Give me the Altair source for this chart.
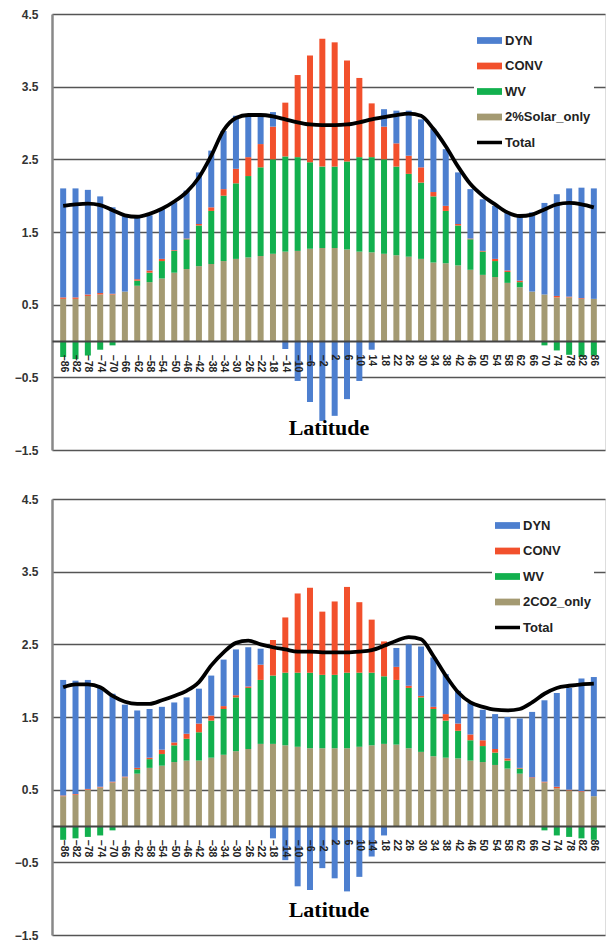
import altair as alt
import pandas as pd

lats = list(range(-86, 87, 4))

# ---- top panel: 2% solar ----
solar_names = ["DYN", "CONV", "WV", "2%Solar_only", "Total"]
solar_base = [0.58, 0.58, 0.62, 0.64, 0.64, 0.68, 0.76, 0.81, 0.86, 0.94, 0.99, 1.03, 1.06, 1.10, 1.13, 1.15, 1.17, 1.20,
              1.23, 1.24, 1.27, 1.28, 1.28, 1.26, 1.23, 1.22,
              1.20, 1.18, 1.16, 1.13, 1.08, 1.07, 1.04, 0.98, 0.91, 0.88, 0.80, 0.74, 0.68, 0.64, 0.60, 0.60, 0.58, 0.58]
solar_wv = [-0.22, -0.25, -0.20, -0.12, -0.06, 0.00, 0.07, 0.13, 0.24, 0.30, 0.41, 0.56, 0.73, 0.90, 1.04, 1.12, 1.22, 1.30,
            1.31, 1.29, 1.19, 1.12, 1.12, 1.21, 1.30, 1.31,
            1.30, 1.22, 1.14, 1.05, 0.91, 0.72, 0.55, 0.42, 0.32, 0.22, 0.15, 0.07, 0.00, -0.06, -0.13, -0.19, -0.22, -0.20]
solar_conv = [0.02, 0.02, 0.02, 0.02, 0.01, 0.00, 0.02, 0.03, 0.03, 0.01, 0.01, 0.02, 0.05, 0.09, 0.20, 0.26, 0.32, 0.45,
              0.74, 1.13, 1.47, 1.76, 1.71, 1.39, 1.09, 0.74,
              0.45, 0.32, 0.25, 0.21, 0.06, 0.07, 0.02, 0.01, 0.01, 0.03, 0.02, 0.02, 0.00, 0.00, 0.02, 0.01, 0.01, 0.00]
solar_dyn = [1.50, 1.50, 1.44, 1.33, 1.19, 1.04, 0.85, 0.76, 0.69, 0.66, 0.66, 0.71, 0.78, 0.80, 0.73, 0.59, 0.41, 0.20,
             -0.11, -0.55, -0.84, -1.10, -1.03, -0.80, -0.55, -0.12,
             0.24, 0.45, 0.62, 0.66, 0.87, 0.78, 0.71, 0.68, 0.71, 0.73, 0.80, 0.89, 1.09, 1.26, 1.40, 1.49, 1.52, 1.52]
solar_total = [1.86, 1.88, 1.89, 1.87, 1.80, 1.73, 1.71, 1.75, 1.82, 1.92, 2.05, 2.25, 2.55, 2.90, 3.07, 3.11, 3.11, 3.09,
               3.05, 3.01, 2.98, 2.97, 2.97, 2.98, 3.01, 3.05,
               3.08, 3.11, 3.13, 3.10, 2.92, 2.68, 2.40, 2.16, 2.00, 1.88, 1.77, 1.72, 1.74, 1.81, 1.88, 1.90, 1.88, 1.84]

# ---- bottom panel: 2xCO2 ----
co2_names = ["DYN", "CONV", "WV", "2CO2_only", "Total"]
co2_base = [0.41, 0.43, 0.50, 0.53, 0.60, 0.67, 0.72, 0.80, 0.83, 0.88, 0.90, 0.90, 0.94, 0.98, 1.03, 1.06, 1.13, 1.13,
            1.11, 1.09, 1.07, 1.07, 1.07, 1.07, 1.09, 1.11,
            1.13, 1.12, 1.07, 1.02, 0.96, 0.94, 0.93, 0.90, 0.88, 0.84, 0.79, 0.72, 0.66, 0.60, 0.52, 0.49, 0.47, 0.41]
co2_wv = [-0.19, -0.17, -0.15, -0.13, -0.06, 0.00, 0.06, 0.12, 0.16, 0.23, 0.30, 0.39, 0.51, 0.63, 0.74, 0.84, 0.88, 0.94,
          1.00, 1.02, 1.04, 1.01, 1.01, 1.04, 1.02, 1.00,
          0.93, 0.89, 0.83, 0.75, 0.65, 0.51, 0.38, 0.28, 0.22, 0.17, 0.11, 0.07, 0.00, -0.06, -0.13, -0.15, -0.17, -0.19]
co2_conv = [0.01, 0.01, 0.01, 0.01, 0.01, 0.01, 0.02, 0.02, 0.06, 0.04, 0.07, 0.12, 0.07, 0.04, 0.03, 0.02, 0.21, 0.49,
            0.76, 1.09, 1.17, 0.87, 1.01, 1.18, 0.97, 0.73,
            0.48, 0.18, 0.03, 0.02, 0.03, 0.09, 0.10, 0.08, 0.08, 0.05, 0.03, 0.01, 0.01, 0.01, 0.02, 0.01, 0.01, 0.00]
co2_dyn = [1.59, 1.56, 1.50, 1.37, 1.21, 0.99, 0.79, 0.67, 0.59, 0.55, 0.50, 0.48, 0.55, 0.64, 0.63, 0.54, 0.22, -0.17,
           -0.47, -0.83, -0.88, -0.58, -0.72, -0.90, -0.70, -0.42,
           -0.13, 0.26, 0.57, 0.68, 0.68, 0.55, 0.45, 0.43, 0.42, 0.48, 0.57, 0.68, 0.90, 1.12, 1.29, 1.40, 1.55, 1.64]
co2_total = [1.91, 1.95, 1.95, 1.91, 1.79, 1.71, 1.68, 1.68, 1.73, 1.79, 1.86, 1.98, 2.21, 2.39, 2.52, 2.55, 2.50, 2.46,
             2.43, 2.40, 2.40, 2.39, 2.39, 2.39, 2.40, 2.42,
             2.48, 2.55, 2.60, 2.57, 2.34, 2.07, 1.84, 1.70, 1.64, 1.60, 1.59, 1.61, 1.70, 1.82, 1.90, 1.93, 1.95, 1.96]

colors = ["#4d7fcf", "#f2502c", "#12b04e", "#a49a72", "#000000"]
y_ticks = [-1.5, -0.5, 0.5, 1.5, 2.5, 3.5, 4.5]

W, H = 553, 436


def panel(names, base, wv, conv, dyn, total, title_y):
    rows = []
    for i, lat in enumerate(lats):
        rows.append({"lat": lat, "comp": names[3], "value": base[i], "ord": 0})
        rows.append({"lat": lat, "comp": "WV", "value": wv[i], "ord": 1})
        rows.append({"lat": lat, "comp": "CONV", "value": conv[i], "ord": 2})
        rows.append({"lat": lat, "comp": "DYN", "value": dyn[i], "ord": 3})
    bdf = pd.DataFrame(rows)
    tdf = pd.DataFrame({"lat": lats, "value": total, "comp": ["Total"] * len(lats)})

    xscale = alt.Scale(domain=[-88, 88], nice=False, zero=False)
    yscale = alt.Scale(domain=[-1.5, 4.5], nice=False, zero=False)
    cscale = alt.Scale(domain=names, range=colors)
    legend = alt.Legend(
        title=None, orient="top-right", offset=11, fillColor="white", padding=3,
        symbolType={"expr": "datum.value === 'Total' ? 'M-1,-0.14H1V0.14H-1Z' : 'M-1,-0.27H1V0.27H-1Z'"},
        symbolSize=625, symbolStrokeWidth=0, labelFont="Liberation Sans", labelFontSize=13,
        labelFontWeight="bold", labelColor="#222", labelOffset=3, rowPadding=5.5,
    )
    xaxis = alt.Axis(
        values=lats, labelAngle=90, labelFont="Liberation Sans", labelFontWeight="bold",
        labelFontSize=10.5, labelColor="#222", labelPadding=13, ticks=False, grid=False,
        domainColor="#444", domainWidth=2, offset=-H * 0.25, labelOverlap=False,
        labelSeparation=0, labelBound=False, labelFlush=False, zindex=1,
        title="Latitude", titleFont="Liberation Serif", titleFontSize=22, titleFontWeight="bold",
        titleColor="#000", titleY=title_y, titleBaseline="alphabetic",
    )
    yaxis = alt.Axis(
        values=y_ticks, format=".1f", title=None, ticks=False, grid=True, gridColor="#555",
        gridWidth=1.5, domainColor="#888", domainWidth=2.5, labelFont="Liberation Sans",
        labelFontWeight="bold", labelFontSize=12, labelColor="#333", labelPadding=14,
    )
    bars = alt.Chart(bdf).mark_bar(size=6).encode(
        x=alt.X("lat:Q", scale=xscale, axis=xaxis),
        y=alt.Y("value:Q", stack="zero", scale=yscale, axis=yaxis),
        color=alt.Color("comp:N", scale=cscale, legend=legend),
        order=alt.Order("ord:Q"),
    )
    line = alt.Chart(tdf).mark_line(strokeWidth=3.8, interpolate="monotone").encode(
        x=alt.X("lat:Q", scale=xscale, axis=xaxis),
        y=alt.Y("value:Q", stack=None, scale=yscale, axis=yaxis),
        color=alt.Color("comp:N", scale=cscale, legend=legend),
    )
    return alt.layer(bars, line).properties(width=W, height=H)


top = panel(solar_names, solar_base, solar_wv, solar_conv, solar_dyn, solar_total, 93)
bot = panel(co2_names, co2_base, co2_wv, co2_conv, co2_dyn, co2_total, 90)

chart = alt.vconcat(top, bot, spacing=35).resolve_scale(color="independent").resolve_legend(
    color="independent"
).properties(
    padding={"left": 13, "top": 7, "right": 0, "bottom": 0}
).configure_view(stroke="#555", strokeWidth=2).configure_axisX(labelOverlap=False).configure(background="white")

chart.save("out.html", embed_options={"renderer": "svg", "actions": False})
